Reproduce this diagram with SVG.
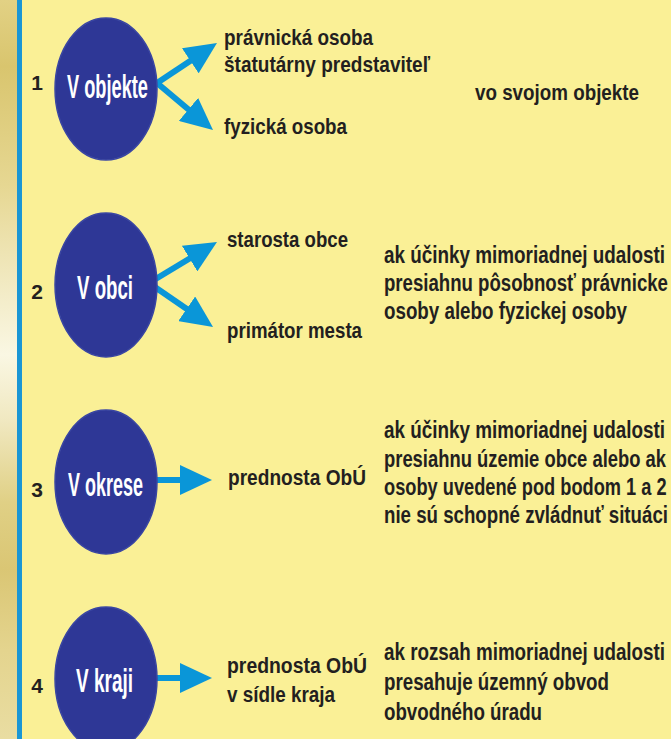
<svg xmlns="http://www.w3.org/2000/svg" width="671" height="739" viewBox="0 0 671 739">
<defs>
<linearGradient id="strip" x1="0" y1="0" x2="0" y2="1">
<stop offset="0" stop-color="#E2D184"/>
<stop offset="0.09" stop-color="#D9C56E"/>
<stop offset="0.25" stop-color="#E6D792"/>
<stop offset="0.4" stop-color="#F3ECC8"/>
<stop offset="0.48" stop-color="#FAF7E3"/>
<stop offset="0.57" stop-color="#F0E8C0"/>
<stop offset="0.68" stop-color="#E0D085"/>
<stop offset="0.77" stop-color="#DAC674"/>
<stop offset="0.88" stop-color="#E4D48E"/>
<stop offset="1" stop-color="#E9DDA2"/>
</linearGradient>
<marker id="head" viewBox="0 0 32 30" markerWidth="32" markerHeight="30" refX="2" refY="15" orient="auto" markerUnits="userSpaceOnUse">
<path d="M0,0 L32,15 L0,30 z" fill="#0A96D8"/>
</marker>
</defs>
<style>
.lbl{font-family:"Liberation Sans",Arial,sans-serif;font-weight:bold;fill:#231F20;}
.num{font-family:"Liberation Sans",Arial,sans-serif;font-weight:bold;fill:#231F20;font-size:21px;text-anchor:middle;}
.cir{fill:#2E3796;stroke:#3A46A2;stroke-width:1.5;}
.ct{font-family:"Liberation Sans",Arial,sans-serif;font-weight:bold;fill:#FFFFFF;font-size:33px;}
.s{font-size:22px;}
.r{font-size:23px;}
.arr{stroke:#0A96D8;stroke-width:6;fill:none;marker-end:url(#head);}
</style>
<rect x="0" y="0" width="671" height="739" fill="#FAF096"/>
<rect x="0" y="0" width="17" height="739" fill="url(#strip)"/>
<rect x="17" y="0" width="5" height="739" fill="#1A96D4"/>

<g id="connectors">
<line class="arr" x1="157" y1="83" x2="192" y2="59.7"/>
<line class="arr" x1="157" y1="83" x2="190" y2="110.7"/>
<line class="arr" x1="149" y1="283" x2="191.3" y2="257.5"/>
<line class="arr" x1="149" y1="283" x2="188.3" y2="310"/>
<line class="arr" x1="155" y1="480" x2="182" y2="480"/>
<line class="arr" x1="155" y1="678" x2="182" y2="678"/>
</g>

<g id="row1">
<text class="num" x="37" y="90">1</text>
<g id="node-v-objekte">
<ellipse class="cir" cx="106" cy="89" rx="51" ry="71"/>
<text class="ct" x="67" y="98" textLength="81" lengthAdjust="spacingAndGlyphs">V objekte</text>
</g>
<g id="node-pravnicka">
<text class="lbl s" x="224" y="45" textLength="149" lengthAdjust="spacingAndGlyphs">právnická osoba</text>
<text class="lbl s" x="224" y="72" textLength="206" lengthAdjust="spacingAndGlyphs">štatutárny predstaviteľ</text>
</g>
<g id="node-fyzicka">
<text class="lbl s" x="224" y="134" textLength="123" lengthAdjust="spacingAndGlyphs">fyzická osoba</text>
</g>
<g id="note1">
<text class="lbl s" x="475" y="100" textLength="164" lengthAdjust="spacingAndGlyphs">vo svojom objekte</text>
</g>
</g>

<g id="row2">
<text class="num" x="37" y="299">2</text>
<g id="node-v-obci">
<ellipse class="cir" cx="106" cy="285" rx="51" ry="72"/>
<text class="ct" x="77" y="299" textLength="56" lengthAdjust="spacingAndGlyphs">V obci</text>
</g>
<g id="node-starosta">
<text class="lbl s" x="227" y="247" textLength="121" lengthAdjust="spacingAndGlyphs">starosta obce</text>
</g>
<g id="node-primator">
<text class="lbl s" x="227" y="338" textLength="135" lengthAdjust="spacingAndGlyphs">primátor mesta</text>
</g>
<g id="note2" transform="translate(384,0) scale(0.82,1)">
<text class="lbl r" x="0" y="263" textLength="342.7" lengthAdjust="spacingAndGlyphs">ak účinky mimoriadnej udalosti</text>
<text class="lbl r" x="0" y="291" textLength="346.3" lengthAdjust="spacingAndGlyphs">presiahnu pôsobnosť právnicke</text>
<text class="lbl r" x="0" y="319" textLength="296.3" lengthAdjust="spacingAndGlyphs">osoby alebo fyzickej osoby</text>
</g>
</g>

<g id="row3">
<text class="num" x="37" y="497">3</text>
<g id="node-v-okrese">
<ellipse class="cir" cx="106" cy="482" rx="51" ry="72"/>
<text class="ct" x="68" y="496" textLength="75" lengthAdjust="spacingAndGlyphs">V okrese</text>
</g>
<g id="node-prednosta3">
<text class="lbl s" x="228" y="485" textLength="138" lengthAdjust="spacingAndGlyphs">prednosta ObÚ</text>
</g>
<g id="note3">
<text class="lbl r" transform="translate(384,0) scale(0.82,1)" x="0" y="438" textLength="342.7" lengthAdjust="spacingAndGlyphs">ak účinky mimoriadnej udalosti</text>
<text class="lbl r" transform="translate(384,0) scale(0.8,1)" x="0" y="467">presiahnu územie obce alebo ak</text>
<text class="lbl r" transform="translate(384,0) scale(0.793,1)" x="0" y="495">osoby uvedené pod bodom 1 a 2</text>
<text class="lbl r" transform="translate(384,0) scale(0.82,1)" x="0" y="523" textLength="346.3" lengthAdjust="spacingAndGlyphs">nie sú schopné zvládnuť situáci</text>
</g>
</g>

<g id="row4">
<text class="num" x="37" y="693">4</text>
<g id="node-v-kraji">
<ellipse class="cir" cx="106" cy="679" rx="51" ry="72"/>
<text class="ct" x="76" y="692" textLength="57" lengthAdjust="spacingAndGlyphs">V kraji</text>
</g>
<g id="node-prednosta4">
<text class="lbl s" x="227" y="673" textLength="140" lengthAdjust="spacingAndGlyphs">prednosta ObÚ</text>
<text class="lbl s" x="227" y="702" textLength="108" lengthAdjust="spacingAndGlyphs">v sídle kraja</text>
</g>
<g id="note4" transform="translate(384,0) scale(0.82,1)">
<text class="lbl r" x="0" y="660" textLength="342.7" lengthAdjust="spacingAndGlyphs">ak rozsah mimoriadnej udalosti</text>
<text class="lbl r" x="0" y="690" textLength="274.4" lengthAdjust="spacingAndGlyphs">presahuje územný obvod</text>
<text class="lbl r" x="0" y="720" textLength="192.7" lengthAdjust="spacingAndGlyphs">obvodného úradu</text>
</g>
</g>
</svg>
